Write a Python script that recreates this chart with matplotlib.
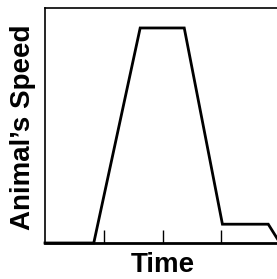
import matplotlib.pyplot as plt

# animal speed over time (arbitrary units)
time = [0, 0.83, 1.62, 2.37, 3.02, 3.80, 4.0]
speed = [0, 0, 9.15, 9.15, 0.8, 0.8, 0]
tick_pos = [1, 2, 3]

plt.rcParams['font.family'] = ['Liberation Sans', 'DejaVu Sans']

fig = plt.figure(figsize=(2.77, 2.79), dpi=100)
ax = fig.add_axes([45/277, 36/279, 235/277, 235/279])

ax.plot(time, speed, color='black', lw=2.0, solid_joinstyle='miter', clip_on=False)
ax.set_xlim(0, 4)
ax.set_ylim(0, 10)
ax.set_xticks(tick_pos)
ax.set_xticklabels([])
ax.set_yticks([])
ax.tick_params(axis='x', direction='in', length=9.5, width=1.0, color='black')
for s in ax.spines.values():
    s.set_linewidth(1.2)
    s.set_color('black')
ax.spines['bottom'].set_linewidth(2.0)

fig.text(23/277, 1 - 127/279, "Animal\u2019s Speed", rotation=90, ha='center', va='center',
         fontsize=20, fontweight='bold')
fig.text(163/277, 1 - 264.5/279, "Time", ha='center', va='center', fontsize=20, fontweight='bold')

fig.savefig('out.png', dpi=100)
